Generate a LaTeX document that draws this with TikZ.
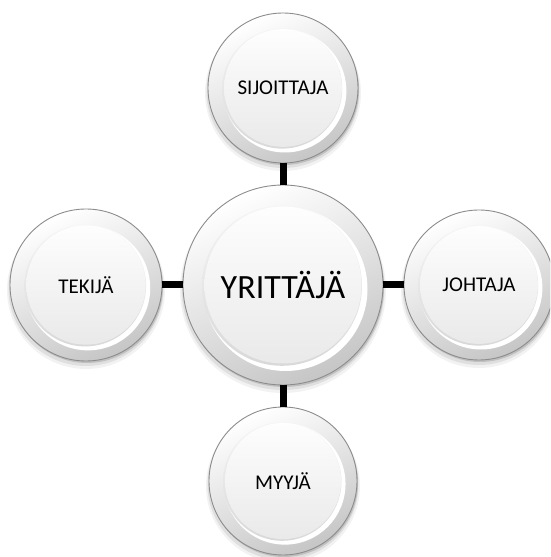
\documentclass[tikz,border=0pt]{standalone}
\usepackage{fontspec}
\setmainfont{Carlito}
\newcommand\mybutton[3]{%
 \begin{scope}[shift={(#1,#2)}]
  \fill[black,opacity=0.05] (0,-5) circle ({#3+3});
  \fill[black,opacity=0.08] (0,-3.5) circle ({#3+1.5});
  \fill[black,opacity=0.14] (1,-2) circle (#3);
  \shade[top color=white,bottom color=gray!45,shading angle=25] (0,0) circle (#3);
  \draw[gray!90,line width=0.9pt] (0,0) circle (#3);
  \fill[white] ({0.025*#3},{-0.04*#3}) circle ({0.82*#3});
  \shade[top color=gray!8,bottom color=gray!30] ({-0.01*#3},{-0.008*#3}) circle ({0.8*#3});
  \shade[top color=gray!1,bottom color=gray!17] (0,0) circle ({0.785*#3});
 \end{scope}}
\begin{document}
\begin{tikzpicture}[x=1pt,y=1pt,
  hub/.style={circle,inner sep=0pt,outer sep=0pt,minimum size=200pt,text=black,font=\fontsize{34}{40}\selectfont},
  sat/.style={circle,inner sep=0pt,outer sep=0pt,minimum size=150pt,text=black,font=\fontsize{21}{25}\selectfont},
  link/.style={line width=7pt,black}]
\useasboundingbox (0,0) rectangle (550,557);
\clip (0,0) rectangle (550,557);
\mybutton{283}{272}{100}
\mybutton{283}{469}{75}
\mybutton{86}{272}{76}
\mybutton{479}{272}{75}
\mybutton{283}{76}{74}
\node[hub] (c) at (283,272) {YRITTÄJÄ};
\node[sat] (t) at (283,469) {SIJOITTAJA};
\node[sat,minimum size=152pt] (l) at (86,272) {TEKIJÄ};
\node[sat] (r) at (479,272) {JOHTAJA};
\node[sat,minimum size=148pt] (b) at (283,76) {MYYJÄ};
\draw[link] (c) -- (t);
\draw[link] (c) -- (l);
\draw[link] (c) -- (r);
\draw[link] (c) -- (b);
\end{tikzpicture}
\end{document}
